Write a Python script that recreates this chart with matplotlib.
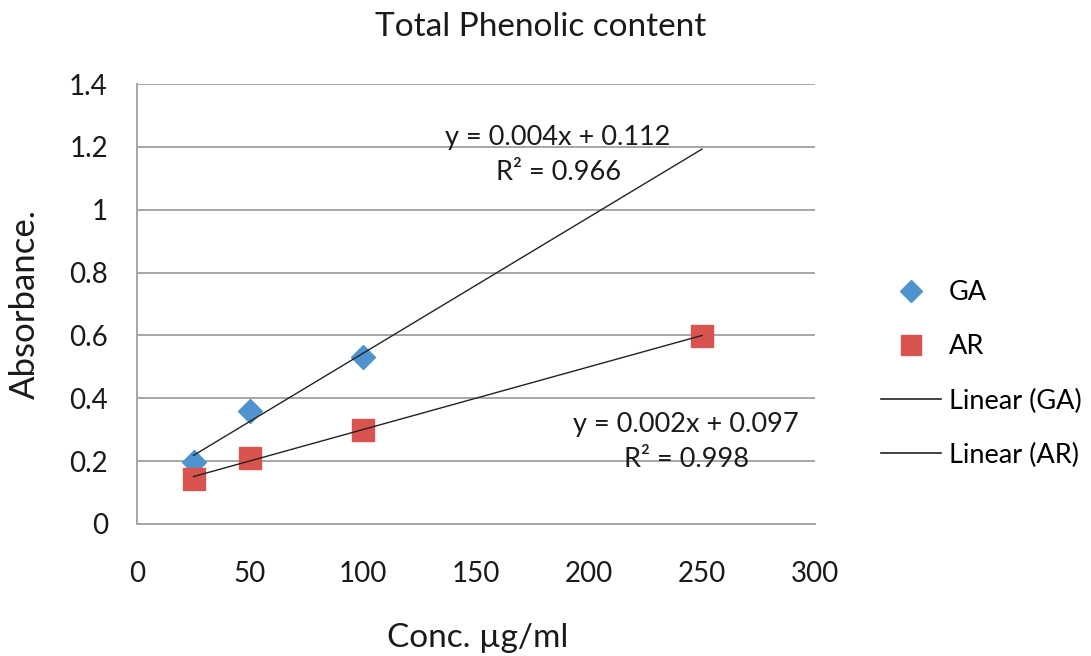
import numpy as np
import matplotlib
matplotlib.use("Agg")
import matplotlib.pyplot as plt
from matplotlib.lines import Line2D

plt.rcParams['font.family'] = ['Lato', 'DejaVu Sans']

# Data
ga_x = [25, 50, 100]
ga_y = [0.196, 0.36, 0.532]
ar_x = [25, 50, 100, 250]
ar_y = [0.143, 0.21, 0.30, 0.599]
trend_x = [25, 250]
ga_eq = "y = 0.004x + 0.112\nR² = 0.966"
ar_eq = "y = 0.002x + 0.097\nR² = 0.998"
x_ticks = [0, 50, 100, 150, 200, 250, 300]
y_ticks = [0, 0.2, 0.4, 0.6, 0.8, 1, 1.2, 1.4]
y_tick_labels = ["0", "0.2", "0.4", "0.6", "0.8", "1", "1.2", "1.4"]

W, H = 1091, 656
fig = plt.figure(figsize=(W/100, H/100), dpi=100)
ax = fig.add_axes([137/W, 1-524/H, (815-137)/W, (524-84)/H])

blue = '#4F93CF'
red = '#D9534F'
grid_c = '#A6A6A6'
txt_c = '#1a1a1a'

ax.set_xlim(0, 300)
ax.set_ylim(0, 1.4)
ax.set_xticks(x_ticks)
ax.set_xticklabels([str(t) for t in x_ticks])
ax.set_yticks(y_ticks)
ax.set_yticklabels(y_tick_labels)
ax.tick_params(length=0, labelsize=20, colors=txt_c)
ax.tick_params(axis='x', pad=27)
ax.tick_params(axis='y', pad=21)
ax.yaxis.grid(True, color=grid_c, lw=1.4)
ax.set_axisbelow(True)
for s in ['top', 'right']:
    ax.spines[s].set_visible(False)
for s in ['left', 'bottom']:
    ax.spines[s].set_color(grid_c)
    ax.spines[s].set_linewidth(1.4)

# trendlines
gp = np.polyfit(ga_x, ga_y, 1)
ap = np.polyfit(ar_x, ar_y, 1)
tx = np.array(trend_x)
ax.plot(tx, np.polyval(gp, tx), color='#222222', lw=1.0, zorder=3)
ax.plot(tx, np.polyval(ap, tx), color='#222222', lw=1.0, zorder=3)

ax.plot(ga_x, ga_y, linestyle='none', marker='D', ms=12.5, color=blue, mec=blue, zorder=2)
ax.plot(ar_x, ar_y, linestyle='none', marker='s', ms=16, color=red, mec=red, zorder=2)

# equations
ax.text(558, H-155, ga_eq, transform=None, ha='center', va='center', fontsize=19.5,
        color=txt_c, linespacing=1.5)
ax.text(686, H-442, ar_eq, transform=None, ha='center', va='center', fontsize=19.5,
        color=txt_c, linespacing=1.5)

fig.text(541/W, 1-27/H, "Total Phenolic content", ha='center', va='center', fontsize=24, color=txt_c)
fig.text(478/W, 1-638/H, "Conc. \u00b5g/ml", ha='center', va='center', fontsize=24, color=txt_c)
fig.text(25/W, 1-304/H, "Absorbance.", ha='center', va='center', rotation=90, fontsize=25, color=txt_c)

handles = [
    Line2D([], [], linestyle='none', marker='D', ms=11, color=blue),
    Line2D([], [], linestyle='none', marker='s', ms=14, color=red),
    Line2D([], [], color='#222222', lw=1.2),
    Line2D([], [], color='#222222', lw=1.2),
]
labels = ["GA", "AR", "Linear (GA)", "Linear (AR)"]
fig.legend(handles, labels, loc='center left', bbox_to_anchor=(881/W, 1-374/H),
           frameon=False, fontsize=19.5, handlelength=2.2, handletextpad=0.3,
           labelspacing=1.08, borderaxespad=0, borderpad=0)

fig.savefig("out.png", dpi=100)
